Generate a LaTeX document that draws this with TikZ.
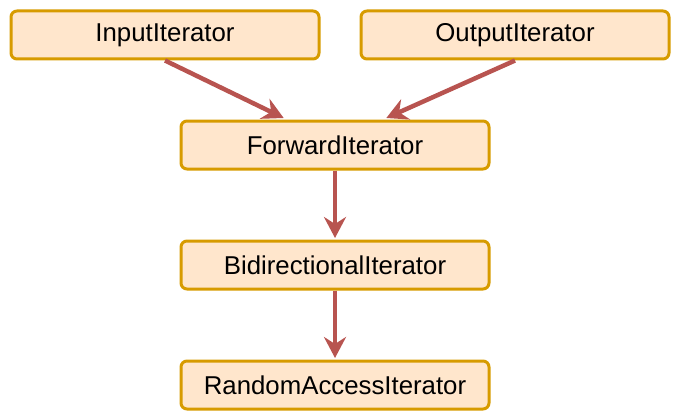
\documentclass[tikz,border=0pt]{standalone}
\usepackage{fontspec}
\setmainfont{Liberation Sans}
\usetikzlibrary{arrows.meta,calc}
\definecolor{boxfill}{HTML}{FFE6CC}
\definecolor{boxdraw}{HTML}{D79B00}
\definecolor{arrowcol}{HTML}{B85450}
\begin{document}
\begin{tikzpicture}[x=1pt,y=-1pt,
  itbox/.style={draw=boxdraw,fill=boxfill,line width=3pt,rounded corners=6pt,
    minimum width=308pt,minimum height=48pt,inner sep=0pt,
    font=\fontsize{25.8}{30}\selectfont},
  link/.style={draw=arrowcol,line width=4.5pt,
    -{Stealth[length=21pt,width=22pt,inset=7pt]}}]
\useasboundingbox (0,0) rectangle (680,420);
\node[itbox] (in) at (165,35) {InputIterator};
\node[itbox] (out) at (515,35) {OutputIterator};
\node[itbox] (fw) at (335,145) {ForwardIterator};
\node[itbox] (bi) at (335,265) {BidirectionalIterator};
\node[itbox] (ra) at (335,385) {RandomAccessIterator};
\coordinate (fwl) at ($(fw.north west)!0.335!(fw.north east)+(0,-1.5)$);
\coordinate (fwr) at ($(fw.north west)!0.665!(fw.north east)+(0,-1.5)$);
\draw[link] (in.south) -- (fwl);
\draw[link] (out.south) -- (fwr);
\draw[link] (fw.south) -- ($(bi.north)+(0,-1.5)$);
\draw[link] (bi.south) -- ($(ra.north)+(0,-1.5)$);
\end{tikzpicture}
\end{document}
